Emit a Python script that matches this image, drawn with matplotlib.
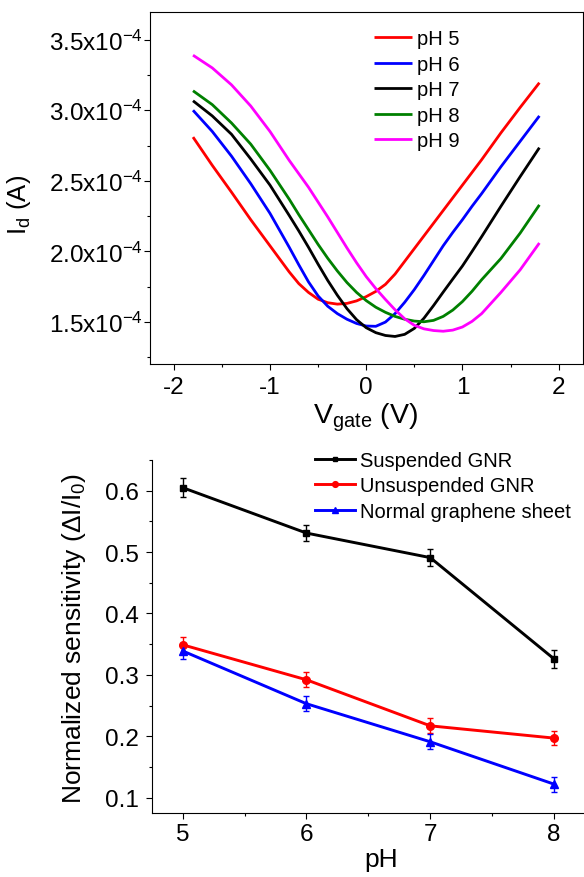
import matplotlib
matplotlib.use("Agg")
import matplotlib.pyplot as plt
from matplotlib.ticker import MultipleLocator, FixedLocator

plt.rcParams['font.family'] = ['Liberation Sans', 'DejaVu Sans']
plt.rcParams['mathtext.fontset'] = 'custom'
plt.rcParams['mathtext.rm'] = 'Liberation Sans'
plt.rcParams['mathtext.it'] = 'Liberation Sans:italic'
plt.rcParams['mathtext.bf'] = 'Liberation Sans:bold'
plt.rcParams['axes.unicode_minus'] = False

# ---------------- Top panel data (Id vs Vgate, Id in units of 1e-4 A) ----------------
v_gate = [-1.8, -1.6, -1.4, -1.2, -1.0, -0.8, -0.7, -0.6, -0.5, -0.4, -0.3, -0.2, -0.1,
          0.0, 0.1, 0.2, 0.3, 0.4, 0.5, 0.6, 0.7, 0.8, 0.9, 1.0, 1.1, 1.2, 1.4, 1.6, 1.8]
i_ph5 = [2.81, 2.61, 2.42, 2.225, 2.04, 1.855, 1.772, 1.71, 1.662, 1.637, 1.627, 1.632, 1.65,
         1.68, 1.717, 1.767, 1.84, 1.93, 2.02, 2.11, 2.20, 2.29, 2.38, 2.47, 2.56, 2.65,
         2.84, 3.02, 3.195]
i_ph6 = [3.00, 2.85, 2.675, 2.48, 2.27, 2.03, 1.905, 1.785, 1.685, 1.612, 1.56, 1.52, 1.49,
         1.472, 1.47, 1.50, 1.56, 1.64, 1.73, 1.83, 1.935, 2.04, 2.135, 2.225, 2.32, 2.41,
         2.60, 2.78, 2.96]
i_ph7 = [3.067, 2.96, 2.83, 2.655, 2.47, 2.255, 2.145, 2.03, 1.91, 1.795, 1.69, 1.595, 1.517,
         1.46, 1.425, 1.405, 1.398, 1.413, 1.455, 1.527, 1.617, 1.712, 1.805, 1.897, 2.00, 2.105,
         2.32, 2.53, 2.735]
i_ph8 = [3.138, 3.04, 2.91, 2.76, 2.575, 2.37, 2.26, 2.155, 2.05, 1.952, 1.862, 1.78, 1.71,
         1.652, 1.605, 1.569, 1.54, 1.52, 1.507, 1.502, 1.512, 1.54, 1.585, 1.645, 1.718, 1.80,
         1.95, 2.13, 2.33]
i_ph9 = [3.39, 3.30, 3.18, 3.03, 2.85, 2.645, 2.55, 2.455, 2.35, 2.245, 2.135, 2.025, 1.92,
         1.822, 1.737, 1.66, 1.587, 1.523, 1.477, 1.452, 1.44, 1.435, 1.443, 1.465, 1.505, 1.56,
         1.71, 1.87, 2.06]

curve_labels = ['pH 5', 'pH 6', 'pH 7', 'pH 8', 'pH 9']
curve_colors = ['#ff0000', '#0000ff', '#000000', '#008000', '#ff00ff']

top_yticks = [1.5, 2.0, 2.5, 3.0, 3.5]
top_yticklabels = [r'1.5x10$^{-4}$', r'2.0x10$^{-4}$', r'2.5x10$^{-4}$',
                   r'3.0x10$^{-4}$', r'3.5x10$^{-4}$']

# ---------------- Bottom panel data ----------------
ph = [5, 6, 7, 8]
suspended = [0.605, 0.531, 0.491, 0.326]
suspended_err = [0.015, 0.013, 0.014, 0.015]
unsuspended = [0.349, 0.292, 0.217, 0.197]
unsuspended_err = [0.0125, 0.012, 0.012, 0.012]
normal_sheet = [0.339, 0.253, 0.191, 0.122]
normal_sheet_err = [0.013, 0.012, 0.0125, 0.012]
series_labels = ['Suspended GNR', 'Unsuspended GNR', 'Normal graphene sheet']

W, H = 584, 878
fig = plt.figure(figsize=(W / 100, H / 100), dpi=100)

# ---------------- Top axes ----------------
ax1 = fig.add_axes([149.7 / W, 1 - 365 / H, (582.7 - 149.7) / W, (365 - 12.7) / H])
for i_vals, lab, c in zip([i_ph5, i_ph6, i_ph7, i_ph8, i_ph9], curve_labels, curve_colors):
    ax1.plot(v_gate, i_vals, color=c, lw=2.0, label=lab,
             solid_joinstyle='round', solid_capstyle='butt')
ax1.set_xlim(-2.25, 2.25)
ax1.set_ylim(1.203, 3.698)
ax1.xaxis.set_major_locator(MultipleLocator(1))
ax1.xaxis.set_minor_locator(MultipleLocator(0.5))
ax1.yaxis.set_major_locator(FixedLocator(top_yticks))
ax1.set_yticklabels(top_yticklabels)
ax1.yaxis.set_minor_locator(MultipleLocator(0.25))
ax1.tick_params(which='major', direction='out', length=4.5, width=0.8, labelsize=17.5)
ax1.tick_params(axis='x', which='major', pad=4)
ax1.tick_params(axis='y', which='major', pad=0.5)
ax1.tick_params(which='minor', direction='out', length=2.5, width=0.8)
for s in ax1.spines.values():
    s.set_linewidth(0.8)
ax1.set_xlabel(r'V$_{\mathrm{gate}}$ (V)', fontsize=20.5)
ax1.set_ylabel(r'I$_{\mathrm{d}}$ (A)', fontsize=18.5)
ax1.xaxis.set_label_coords(0.4995, -0.103)
ax1.yaxis.set_label_coords(-0.27, 0.453)
ax1.legend(loc='upper left', bbox_to_anchor=(0.49, 0.984), frameon=False,
           fontsize=14.5, handlelength=1.87, handletextpad=0.25, labelspacing=0.32,
           borderaxespad=0.2)

# ---------------- Bottom axes ----------------
ax2 = fig.add_axes([152.3 / W, 1 - 814 / H, (583 - 152.3) / W, (814 - 460.7) / H])
e1 = ax2.errorbar(ph, suspended, yerr=suspended_err, color='black', marker='s', ms=4.8,
                  lw=2.1, capsize=2.5, elinewidth=1.0, capthick=1.0)
e2 = ax2.errorbar(ph, unsuspended, yerr=unsuspended_err, color='#ff0000', marker='o', ms=5.5,
                  lw=2.1, capsize=2.5, elinewidth=1.0, capthick=1.0)
e3 = ax2.errorbar(ph, normal_sheet, yerr=normal_sheet_err, color='#0000ff', marker='^', ms=5.8,
                  lw=2.1, capsize=2.5, elinewidth=1.0, capthick=1.0)
ax2.set_xlim(4.755, 8.234)
ax2.set_ylim(0.075, 0.6505)
ax2.xaxis.set_major_locator(MultipleLocator(1))
ax2.xaxis.set_minor_locator(MultipleLocator(0.5))
ax2.yaxis.set_major_locator(MultipleLocator(0.1))
ax2.yaxis.set_minor_locator(MultipleLocator(0.05))
ax2.spines['top'].set_visible(False)
ax2.spines['right'].set_visible(False)
for s in ax2.spines.values():
    s.set_linewidth(0.8)
ax2.tick_params(which='major', direction='out', length=4.5, width=0.8, labelsize=17.5)
ax2.tick_params(axis='x', which='major', pad=3)
ax2.tick_params(axis='y', which='major', pad=5.5)
ax2.tick_params(which='minor', direction='out', length=2.5, width=0.8)
ax2.set_xlabel('pH', fontsize=19)
ax2.set_ylabel(r'Normalized sensitivity ($\Delta$I/I$_{0}$)', fontsize=19)
ax2.xaxis.set_label_coords(0.532, -0.095)
ax2.yaxis.set_label_coords(-0.149, 0.497)
ax2.legend([e1[0], e2[0], e3[0]], series_labels, loc='upper left',
           bbox_to_anchor=(0.3587, 1.0476), frameon=False,
           fontsize=14.5, handlelength=2.0, handletextpad=0.25, labelspacing=0.32,
           borderaxespad=0.0, markerscale=0.75)

fig.savefig('out.png', dpi=100)
